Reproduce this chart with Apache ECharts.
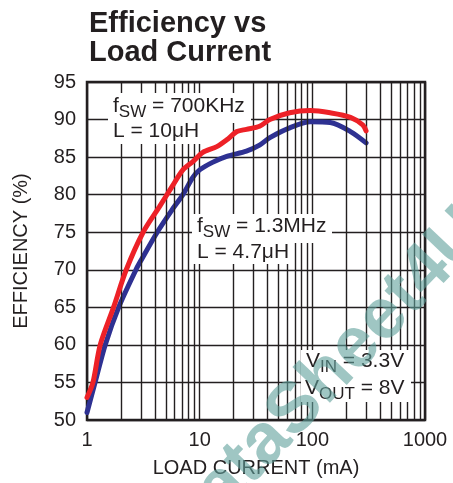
<!DOCTYPE html>
<html>
<head>
<meta charset="utf-8">
<script src="https://cdn.jsdelivr.net/npm/echarts@6/dist/echarts.min.js"></script>
<style>
  html, body { margin: 0; padding: 0; background: #fff; }
  #chart { width: 453px; height: 483px; }
</style>
</head>
<body>
<div id="chart"></div>
<script>
// load current (mA) / efficiency (%)
const fsw700Current = [1, 1.13, 1.31, 1.72, 2.23, 3.15, 4.4, 5.7, 7.1, 8.7, 10.6, 14.2, 17.4, 21.4, 26, 34, 42, 63, 96, 144, 218, 280, 300];
const fsw700Eff     = [53, 55, 60, 65, 70, 75, 78.4, 81.1, 83.3, 84.4, 85.6, 86.4, 87.3, 88.4, 88.7, 89.1, 90, 90.9, 91.2, 90.9, 90.3, 89.3, 88.5];

const fsw13Current = [1, 1.18, 1.45, 1.91, 2.72, 3.03, 4.2, 5.7, 7.1, 8.7, 10, 13, 17.4, 26, 34, 42, 63, 96, 144, 218, 300];
const fsw13Eff     = [51, 55, 60, 65, 70, 71.3, 75, 78, 80, 82.3, 83.3, 84.3, 85.1, 85.8, 86.6, 87.6, 88.9, 89.7, 89.6, 88.4, 86.9];

const minorX = [2, 3, 4, 5, 6, 7, 8, 9, 20, 30, 40, 50, 60, 70, 80, 90, 200, 300, 400, 500, 600, 700, 800, 900];

const FONT = '"Liberation Sans", Arial, Helvetica, sans-serif';
const INK = '#231f20';

const chart = echarts.init(document.getElementById('chart'));

function pairs(xs, ys) {
  return xs.map((x, i) => [x, ys[i]]);
}

const measureCtx = document.createElement('canvas').getContext('2d');
function textWidth(str, size, weight) {
  measureCtx.font = (weight || 'normal') + ' ' + size + 'px ' + FONT;
  return measureCtx.measureText(str).width;
}

// text with a subscript part, as three pieces
function subText(x, cy, main1, sub, main2) {
  const w1 = textWidth(main1, 21);
  const ws = textWidth(sub, 17);
  const base = { fontFamily: FONT, fill: INK, verticalAlign: 'middle' };
  return [
    { type: 'text', x: x, y: cy, z: 20, style: Object.assign({ text: main1, fontSize: 21 }, base) },
    { type: 'text', x: x + w1, y: cy + 6, z: 20, style: Object.assign({ text: sub, fontSize: 17 }, base) },
    { type: 'text', x: x + w1 + ws, y: cy, z: 20, style: Object.assign({ text: main2, fontSize: 21 }, base) }
  ];
}
function plainText(x, cy, str) {
  return {
    type: 'text', x: x, y: cy, z: 20,
    style: { text: str, fontFamily: FONT, fontSize: 21, fill: INK, verticalAlign: 'middle' }
  };
}
function whiteBox(x, y, w, h) {
  return { type: 'rect', shape: { x: x, y: y, width: w, height: h }, z: 10, style: { fill: '#fff' } };
}

// diagonal watermark: "S" centre near (296,410), "4" centre near (427,272)
function watermark() {
  const sX = 296, sY = 410, fX = 427, fY = 272;
  const dx = fX - sX, dy = fY - sY;
  const len = Math.hypot(dx, dy);
  const ux = dx / len, uy = dy / len;
  const wD = textWidth('Data', 100, 'bold');
  const wS = textWidth('S', 100, 'bold');
  const wRun = textWidth('Sheet4', 100, 'bold');
  const w4 = textWidth('4', 100, 'bold');
  const size = 100 * len / (wRun - wS / 2 - w4 / 2);
  const back = (wD + wS / 2) * size / 100;
  return {
    type: 'text', x: sX - ux * back, y: sY - uy * back,
    rotation: Math.atan2(-dy, dx), z: 30, silent: true,
    style: {
      text: 'DataSheet4U.com', fontFamily: FONT, fontSize: size, fontWeight: 'bold',
      fill: 'rgba(95,160,155,0.6)', verticalAlign: 'middle', align: 'left'
    }
  };
}

const option = {
  backgroundColor: '#fff',
  animation: false,
  grid: {
    left: 87, right: 28, top: 82, bottom: 63,
    show: true,
    borderColor: INK,
    borderWidth: 2.5
  },
  xAxis: {
    type: 'log',
    logBase: 10,
    min: 1,
    max: 1000,
    name: 'LOAD CURRENT (mA)',
    nameLocation: 'middle',
    nameGap: 38,
    nameTextStyle: { fontFamily: FONT, fontSize: 20, color: INK },
    axisLine: { show: false },
    axisTick: { show: false },
    axisLabel: { fontFamily: FONT, fontSize: 20, color: INK, margin: 10, formatter: v => String(v) },
    splitLine: { show: true, lineStyle: { color: INK, width: 1.4 } }
  },
  yAxis: {
    type: 'value',
    min: 50,
    max: 95,
    interval: 5,
    name: 'EFFICIENCY (%)',
    nameLocation: 'middle',
    nameGap: 56,
    nameTextStyle: { fontFamily: FONT, fontSize: 20, color: INK },
    axisLine: { show: false },
    axisTick: { show: false },
    axisLabel: { fontFamily: FONT, fontSize: 20, color: INK, margin: 11 },
    splitLine: { show: true, lineStyle: { color: INK, width: 1.4 } }
  },
  series: [
    {
      // minor grid lines of the log axis
      type: 'line',
      data: [],
      silent: true,
      markLine: {
        silent: true,
        symbol: 'none',
        label: { show: false },
        lineStyle: { color: INK, width: 1.4, type: 'solid' },
        data: minorX.map(v => ({ xAxis: v }))
      }
    },
    {
      name: 'fSW = 700KHz',
      type: 'line',
      data: pairs(fsw700Current, fsw700Eff),
      smooth: 0.3,
      showSymbol: false,
      z: 5,
      lineStyle: { color: '#ed2127', width: 5, cap: 'round' }
    },
    {
      name: 'fSW = 1.3MHz',
      type: 'line',
      data: pairs(fsw13Current, fsw13Eff),
      smooth: 0.3,
      showSymbol: false,
      z: 4,
      lineStyle: { color: '#2e3192', width: 5, cap: 'round' }
    }
  ],
  graphic: [
    {
      type: 'text', x: 89, y: 24,
      style: { text: 'Efficiency vs', fontFamily: FONT, fontSize: 29, fontWeight: 'bold', fill: INK, verticalAlign: 'middle' }
    },
    {
      type: 'text', x: 89, y: 53,
      style: { text: 'Load Current', fontFamily: FONT, fontSize: 29, fontWeight: 'bold', fill: INK, verticalAlign: 'middle' }
    },
    whiteBox(108, 93, 143, 30),
    whiteBox(108, 119, 96, 25),
    ...subText(113, 106, 'f', 'SW', ' = 700KHz'),
    plainText(113, 131, 'L = 10μH'),
    whiteBox(192, 214, 140, 29),
    whiteBox(192, 240, 100, 24),
    ...subText(197, 226, 'f', 'SW', ' = 1.3MHz'),
    plainText(197, 252, 'L = 4.7μH'),
    whiteBox(301, 350, 108, 27),
    whiteBox(301, 376, 110, 26),
    ...subText(306, 361, 'V', 'IN', ' = 3.3V'),
    ...subText(305, 388, 'V', 'OUT', ' = 8V'),
    watermark()
  ]
};

chart.setOption(option);
</script>
</body>
</html>
